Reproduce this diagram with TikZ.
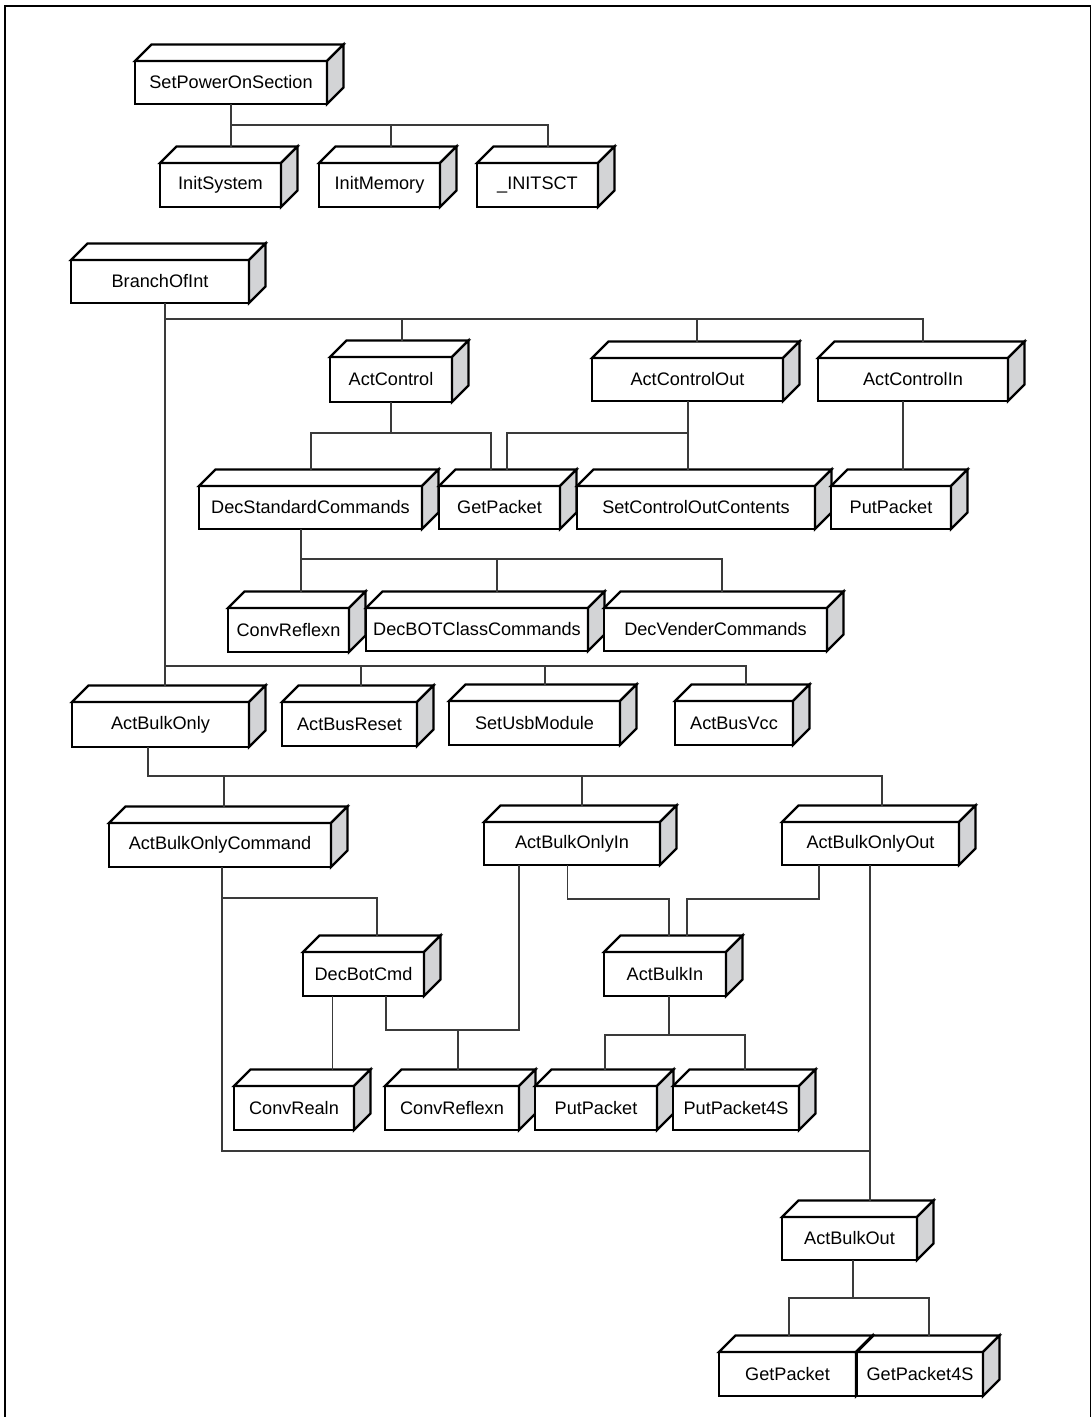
\documentclass[tikz,border=0pt]{standalone}
\usepackage{fontspec}
\setmainfont{Liberation Sans}
\usetikzlibrary{calc}
\definecolor{sidegray}{HTML}{D3D4D6}
\definecolor{conngray}{HTML}{3A3A3A}
\tikzset{
  frontbox/.style={draw=black, line width=1.7pt, fill=white, rectangle, inner sep=0pt, outer sep=0pt,
    font=\fontsize{13.6}{16}\selectfont},
  boxedge/.style={draw=black, line width=1.7pt, line join=miter},
  conn/.style={draw=conngray, line width=0.85pt},
  frameline/.style={draw=black, line width=1.4pt}
}
\newcommand\cubebox[6]{%
  \node[frontbox, minimum width={(#4-#2)*0.75pt}, minimum height={(#5-#3)*0.75pt}] (#1) at ({(#2+#4)/2},{(#3+#5)/2}) {#6};
  \filldraw[boxedge, fill=white] (#1.north west) -- ++(16.5,-16.5) -- ($(#1.north east)+(16.5,-16.5)$) -- (#1.north east) -- cycle;
  \filldraw[boxedge, fill=sidegray] (#1.north east) -- ++(16.5,-16.5) -- ($(#1.south east)+(16.5,-16.5)$) -- (#1.south east) -- cycle;
  \coordinate (#1-t) at ($(#1.north)+(0,-16.5)$);
}
\begin{document}
\begin{tikzpicture}[x=0.75pt, y=-0.75pt]
\useasboundingbox (0,0) rectangle (1092,1417);
\draw[frameline] (5,1420) -- (5,6) -- (1090.5,6) -- (1090.5,1420);

% ---------- boxes ----------
\cubebox{spos}{135}{61}{327}{104}{SetPowerOnSection}
\cubebox{isys}{160}{163}{281}{207}{InitSystem}
\cubebox{imem}{319}{163}{440}{207}{InitMemory}
\cubebox{isct}{477}{163}{598}{207}{\_INITSCT}

\cubebox{boi}{71}{260}{249}{303}{BranchOfInt}
\cubebox{actc}{330}{357}{452}{402}{ActControl}
\cubebox{acto}{592}{358}{783}{401}{ActControlOut}
\cubebox{acti}{818}{358}{1008}{401}{ActControlIn}

\cubebox{dsc}{199}{486}{422}{529}{DecStandardCommands}
\cubebox{gp1}{439}{486}{560}{529}{GetPacket}
\cubebox{scoc}{577}{486}{815}{529}{SetControlOutContents}
\cubebox{pp1}{831}{486}{951}{529}{PutPacket}

\cubebox{cr1}{228}{608}{349}{652}{ConvReflexn}
\cubebox{dbcc}{366}{608}{588}{651}{DecBOTClassCommands}
\cubebox{dvc}{604}{608}{827}{651}{DecVenderCommands}

\cubebox{abo}{72}{702}{249}{747}{ActBulkOnly}
\cubebox{abr}{282}{702}{417}{746}{ActBusReset}
\cubebox{usb}{449}{701}{620}{745}{SetUsbModule}
\cubebox{vcc}{675}{701}{793}{745}{ActBusVcc}

\cubebox{aboc}{109}{823}{331}{867}{ActBulkOnlyCommand}
\cubebox{aboi}{484}{822}{660}{865}{ActBulkOnlyIn}
\cubebox{aboo}{782}{822}{959}{865}{ActBulkOnlyOut}

\cubebox{dbc}{303}{952}{424}{996}{DecBotCmd}
\cubebox{abi}{604}{952}{726}{996}{ActBulkIn}

\cubebox{crl}{234}{1086}{354}{1130}{ConvRealn}
\cubebox{cr2}{385}{1086}{519}{1130}{ConvReflexn}
\cubebox{pp2}{535}{1086}{657}{1130}{PutPacket}
\cubebox{pp4}{673}{1086}{799}{1130}{PutPacket4S}

\cubebox{abot}{782}{1217}{917}{1260}{ActBulkOut}
\cubebox{gp3}{719}{1352}{856}{1396}{GetPacket}
\cubebox{gp4}{857}{1352}{983}{1396}{GetPacket4S}

% ---------- connectors ----------
% SetPowerOnSection
\draw[conn] (231,0 |- spos.south) -- (231,0 |- isys-t);
\draw[conn] (231,125) -- (548,125) -- (548,0 |- isct-t);
\draw[conn] (391,125) -- (391,0 |- imem-t);

% BranchOfInt
\draw[conn] (165,0 |- boi.south) -- (165,0 |- abo-t);
\draw[conn] (165,319) -- (923,319) -- (923,0 |- acti-t);
\draw[conn] (402,319) -- (402,0 |- actc-t);
\draw[conn] (697,319) -- (697,0 |- acto-t);
\draw[conn] (165,666) -- (746,666) -- (746,0 |- vcc-t);
\draw[conn] (361,666) -- (361,0 |- abr-t);
\draw[conn] (545,666) -- (545,0 |- usb-t);

% ActControl
\draw[conn] (391,0 |- actc.south) -- (391,433);
\draw[conn] (311,0 |- dsc-t) -- (311,433) -- (491,433) -- (491,0 |- gp1-t);
% ActControlOut
\draw[conn] (688,0 |- acto.south) -- (688,0 |- scoc-t);
\draw[conn] (688,433) -- (507,433) -- (507,0 |- gp1-t);
% ActControlIn
\draw[conn] (903,0 |- acti.south) -- (903,0 |- pp1-t);

% DecStandardCommands
\draw[conn] (301,0 |- dsc.south) -- (301,0 |- cr1-t);
\draw[conn] (301,559) -- (722,559) -- (722,0 |- dvc-t);
\draw[conn] (497,559) -- (497,0 |- dbcc-t);

% ActBulkOnly
\draw[conn] (148,0 |- abo.south) -- (148,776) -- (882,776) -- (882,0 |- aboo-t);
\draw[conn] (224,776) -- (224,0 |- aboc-t);
\draw[conn] (582,776) -- (582,0 |- aboi-t);

% ActBulkOnlyCommand
\draw[conn] (222,0 |- aboc.south) -- (222,1151) -- (870,1151);
\draw[conn] (222,898) -- (377,898) -- (377,0 |- dbc-t);

% ActBulkOnlyOut
\draw[conn] (870,0 |- aboo.south) -- (870,0 |- abot-t);
\draw[conn] (819,0 |- aboo.south) -- (819,899) -- (687,899) -- (687,0 |- abi-t);

% ActBulkOnlyIn
\draw[conn] (567.5,0 |- aboi.south) -- (567.5,899) -- (669,899) -- (669,0 |- abi-t);
\draw[conn] (519,0 |- aboi.south) -- (519,1030) -- (386,1030) -- (386,0 |- dbc.south);
\draw[conn] (458,1030) -- (458,0 |- cr2-t);

% DecBotCmd
\draw[conn] (332.5,0 |- dbc.south) -- (332.5,0 |- crl-t);

% ActBulkIn
\draw[conn] (669,0 |- abi.south) -- (669,1035);
\draw[conn] (605,0 |- pp2-t) -- (605,1035) -- (745,1035) -- (745,0 |- pp4-t);

% ActBulkOut
\draw[conn] (853,0 |- abot.south) -- (853,1298);
\draw[conn] (789,0 |- gp3-t) -- (789,1298) -- (929,1298) -- (929,0 |- gp4-t);
\end{tikzpicture}
\end{document}
